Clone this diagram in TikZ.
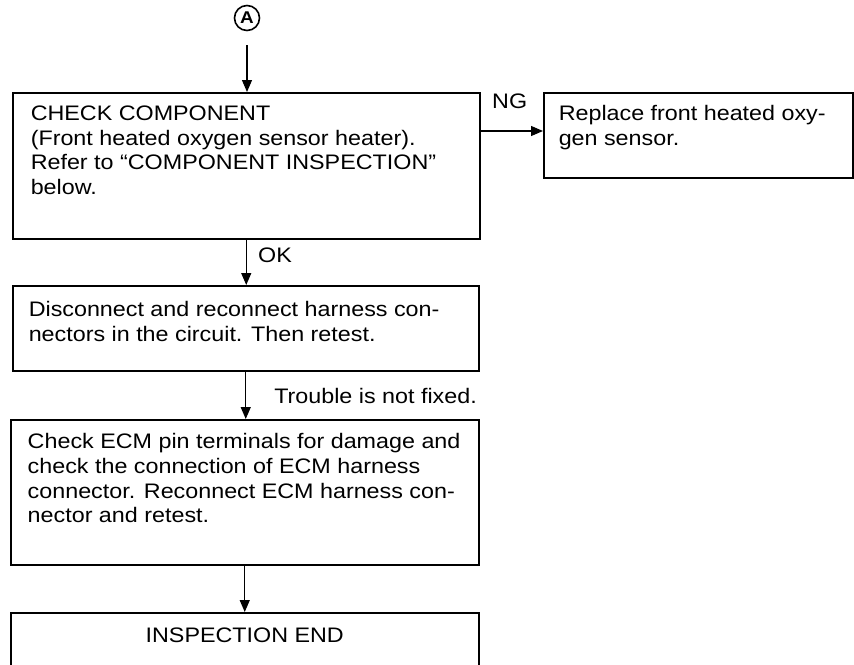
\documentclass[tikz,border=0pt]{standalone}
\usepackage{fontspec}
\setmainfont{Liberation Sans}[FakeStretch=1.11]
\usetikzlibrary{arrows.meta}
\newcommand\bxt[5]{\parbox[c][#2][t]{#1}{\raggedright\leftskip=#3\relax\parindent=0pt\vspace*{#4}#5}}
\begin{document}
\begin{tikzpicture}[x=1pt,y=-1pt,
  box/.style={draw, line width=1.5pt, inner sep=0pt, anchor=north west, font=\fontsize{21}{24.6}\selectfont},
  arr/.style={line width=1.2pt, -{Triangle[length=12pt,width=10pt]}},
  lbl/.style={font=\fontsize{21}{24.6}\selectfont, inner sep=0pt}]
\clip (0,0) rectangle (854,664);
\fill[white] (0,0) rectangle (854,664);
\node[circle, draw, line width=1.6pt, minimum size=25pt, inner sep=0pt, font=\bfseries\fontsize{17}{17}\selectfont] (A) at (247,18) {A};
\node[box] (b1) at (12,92) {\bxt{467pt}{146pt}{18pt}{13pt}{CHECK COMPONENT\\(Front heated oxygen sensor heater).\\Refer to “COMPONENT INSPECTION”\\below.}};
\node[box] (ng) at (543,92) {\bxt{309pt}{85pt}{15pt}{13pt}{Replace front heated oxy-\\gen sensor.}};
\node[box] (b2) at (12,285) {\bxt{466pt}{85pt}{16pt}{16pt}{Disconnect and reconnect harness con-\\nectors in the circuit. Then retest.}};
\node[box] (b3) at (10,419) {\bxt{468pt}{145pt}{17pt}{14pt}{Check ECM pin terminals for damage and\\check the connection of ECM harness\\connector. Reconnect ECM harness con-\\nector and retest.}};
\node[box] (b4) at (10,612) {\parbox[c][100pt][t]{468pt}{\centering\vspace*{15pt}INSPECTION END}};
\draw[arr, shorten <=14pt] (A.south) -- (A.south |- b1.north);
\coordinate (ngs) at ([yshift=-39pt]b1.north east);
\draw[arr] (ngs) -- (ngs -| ng.west);
\node[lbl, anchor=base west] (lng) at (492,108) {NG};
\draw[arr] (b1.south) -- (b1.south |- b2.north);
\node[lbl, anchor=base west] (lok) at (258,262) {OK};
\draw[arr] (b2.south) -- (b2.south |- b3.north);
\node[lbl, anchor=base east] (ltr) at (477,403) {Trouble is not fixed.};
\draw[arr] (b3.south) -- (b3.south |- b4.north);
\end{tikzpicture}
\end{document}
